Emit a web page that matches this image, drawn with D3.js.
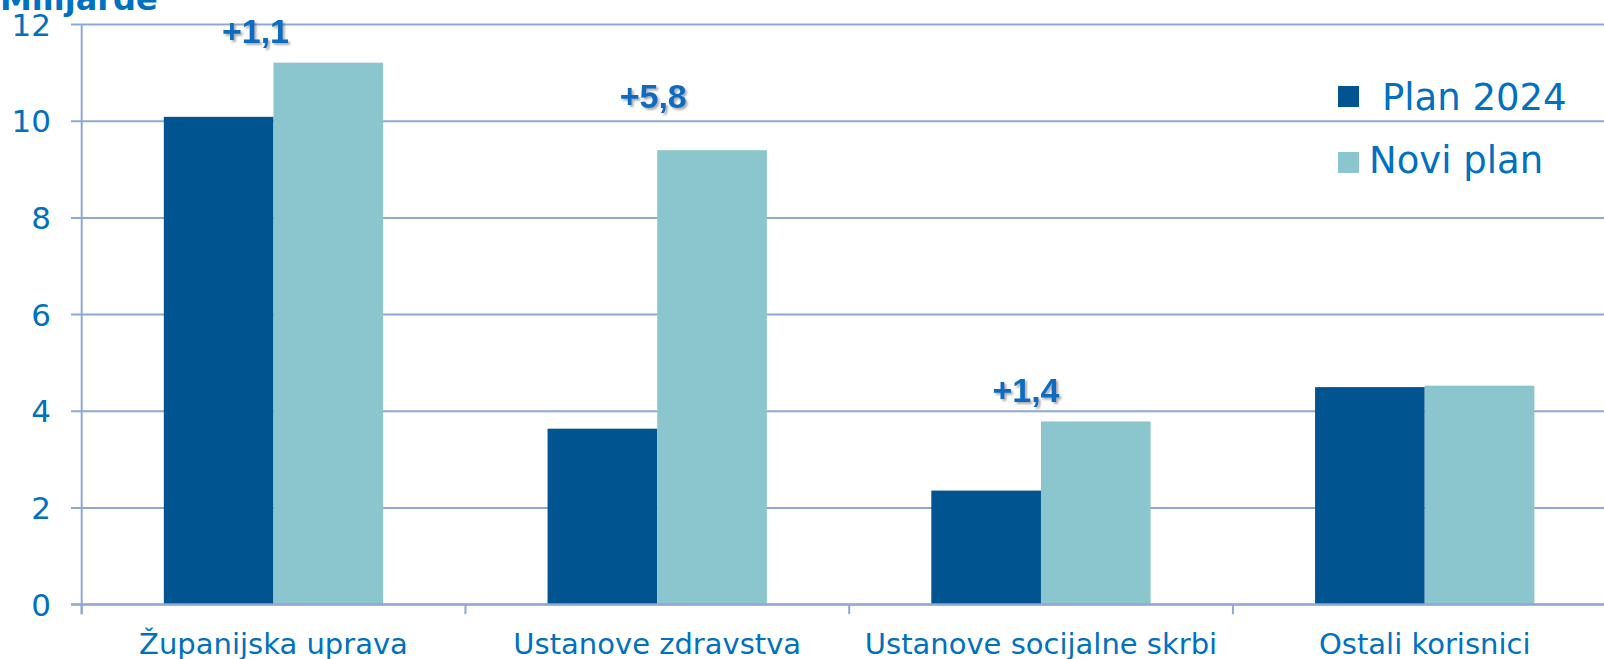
<!DOCTYPE html>
<html>
<head>
<meta charset="utf-8">
<script src="https://cdn.jsdelivr.net/npm/d3@7/dist/d3.min.js"></script>
<style>
  html, body { margin: 0; padding: 0; background: #ffffff; overflow: hidden; }
  svg { display: block; }
</style>
</head>
<body>
<svg id="chart" width="1604" height="659"></svg>
<script>
// ---- data ----
const categories = ["Županijska uprava", "Ustanove zdravstva", "Ustanove socijalne skrbi", "Ostali korisnici"];
const seriesNames = ["Plan 2024", "Novi plan"];
const plan2024 = [10.08, 3.63, 2.35, 4.49];
const noviPlan = [11.2, 9.39, 3.78, 4.52];
const yTicks = [0, 2, 4, 6, 8, 10, 12];
const diffLabels = ["+1,1", "+5,8", "+1,4"];
const diffCategories = ["Županijska uprava", "Ustanove zdravstva", "Ustanove socijalne skrbi"];
const unitTitle = "Milijarde";

// ---- layout / style ----
const W = 1604, H = 659;
const colors = ["#00548f", "#8bc5cd"];
const gridColor = "#8ea8d5";
const textColor = "#0070c0";
const diffLabelY = [11.61, 10.27, 4.19];     // annotation baseline in data units
const diffLabelDx = [-18, -4, -15];          // horizontal nudge from group center

const svg = d3.select("#chart");

const defs = svg.append("defs");
const f = defs.append("filter").attr("id", "shadow").attr("x", "-20%").attr("y", "-20%").attr("width", "140%").attr("height", "160%");
f.append("feDropShadow").attr("dx", 2).attr("dy", 2).attr("stdDeviation", 1.2)
  .attr("flood-color", "#555").attr("flood-opacity", 0.5);

const x = d3.scaleBand().domain(categories).range([81.7, 1616.5])
  .paddingInner(0.4285).paddingOuter(0.214);
const xs = d3.scaleBand().domain(seriesNames).range([0, x.bandwidth()]).padding(0);
const y = d3.scaleLinear().domain([0, 12]).range([604.2, 24]);

// gridlines + y tick labels
const yAxis = d3.axisLeft(y).tickValues(yTicks).tickSize(-(W - 71)).tickFormat(d3.format("d"));
const gy = svg.append("g").attr("transform", "translate(71,0)").call(yAxis);
gy.select(".domain").remove();
gy.selectAll(".tick line").attr("stroke", gridColor).attr("stroke-width", 2);
gy.selectAll(".tick text")
  .attr("x", -20)
  .attr("fill", textColor)
  .attr("font-family", "DejaVu Sans, Verdana, sans-serif")
  .attr("font-size", 31)
  .attr("dy", "0.36em");

// y axis line
svg.append("line").attr("x1", 81.7).attr("x2", 81.7).attr("y1", y(12)).attr("y2", y(0) + 10)
  .attr("stroke", gridColor).attr("stroke-width", 2);

// bars
const data = categories.map((c, i) => ({ cat: c, vals: [plan2024[i], noviPlan[i]] }));
const groups = svg.append("g").selectAll("g").data(data).join("g")
  .attr("transform", d => `translate(${x(d.cat)},0)`);
groups.selectAll("rect").data(d => d.vals.map((v, j) => ({ v, s: seriesNames[j], j })))
  .join("rect")
  .attr("x", d => xs(d.s))
  .attr("width", xs.bandwidth())
  .attr("y", d => y(d.v))
  .attr("height", d => y(0) - y(d.v))
  .attr("fill", d => colors[d.j]);

// x axis: baseline + category ticks at band boundaries
const step = x.step();
const xAxis = d3.axisBottom(x).tickSize(0).tickPadding(22);
const gx = svg.append("g").attr("transform", `translate(0,${y(0)})`).call(xAxis);
gx.select(".domain").remove();
gx.selectAll(".tick text")
  .attr("fill", textColor)
  .attr("font-family", "DejaVu Sans, Verdana, sans-serif")
  .attr("font-size", 29)
  .attr("dy", "0.95em");
svg.append("line").attr("x1", 71).attr("x2", W).attr("y1", y(0)).attr("y2", y(0))
  .attr("stroke", gridColor).attr("stroke-width", 2);
const boundaries = categories.map(c => x(c) - x.paddingOuter() * step);
svg.append("g").selectAll("line").data(boundaries).join("line")
  .attr("x1", d => d).attr("x2", d => d)
  .attr("y1", y(0)).attr("y2", y(0) + 10)
  .attr("stroke", gridColor).attr("stroke-width", 2);

// difference annotations
svg.append("g").selectAll("text").data(diffLabels).join("text")
  .attr("x", (d, i) => x(diffCategories[i]) + x.bandwidth() / 2 + diffLabelDx[i])
  .attr("y", (d, i) => y(diffLabelY[i]))
  .attr("text-anchor", "middle")
  .attr("fill", "#0a6cc0")
  .attr("font-family", "'Liberation Sans', Arial, sans-serif")
  .attr("font-weight", "bold")
  .attr("font-size", 34)
  .attr("filter", "url(#shadow)")
  .text(d => d);

// legend
const legend = svg.append("g");
const legendItems = [
  { name: seriesNames[0], sx: 1338, sy: 86, tx: 1382, ty: 110 },
  { name: seriesNames[1], sx: 1338, sy: 152, tx: 1369, ty: 173 }
];
legendItems.forEach((it, i) => {
  legend.append("rect").attr("x", it.sx).attr("y", it.sy).attr("width", 21).attr("height", 21).attr("fill", colors[i]);
  legend.append("text").attr("x", it.tx).attr("y", it.ty)
    .attr("fill", textColor)
    .attr("font-family", "DejaVu Sans, Verdana, sans-serif")
    .attr("font-size", 37)
    .text(it.name);
});

// unit title (cut off at the top)
svg.append("text").attr("x", 0).attr("y", 10)
  .attr("fill", textColor)
  .attr("font-family", "DejaVu Sans, Verdana, sans-serif")
  .attr("font-weight", "bold")
  .attr("font-size", 32)
  .text(unitTitle);
</script>
</body>
</html>
